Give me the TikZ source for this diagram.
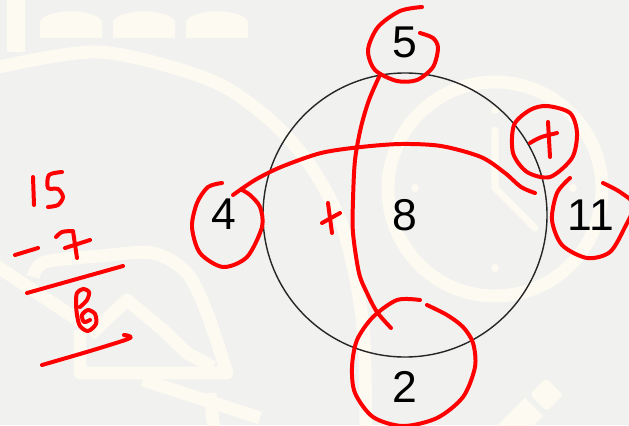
\documentclass[tikz,border=0pt]{standalone}
\usepackage{fontspec}
\setmainfont{Liberation Sans}
\definecolor{paper}{HTML}{F1F1F0}
\definecolor{cream}{HTML}{FCFAF1}
\definecolor{pen}  {HTML}{FF0000}
\newcommand\numfont{\fontsize{38}{40}\selectfont}

\begin{document}
\begin{tikzpicture}[
  x=0.03cm,y=-0.03cm,
  num/.style={font=\numfont,inner sep=0pt},
  ring/.style={draw=black!85,line width=1.2pt,circle,minimum size=8.52cm,
               inner sep=0pt,font=\numfont},
  ink/.style={draw=pen,line width=3.4pt,line cap=round,line join=round},
  wband/.style={draw=cream,line width=11pt,line join=round},
  wthin/.style={draw=cream,line width=6pt,line cap=round,line join=round}]

\fill[paper] (0,0) rectangle (629,425);
\useasboundingbox (0,0) rectangle (629,425);
\clip (0,0) rectangle (629,425);

% faint watermark
\fill[cream] (7,0) rectangle (25,52);
\foreach \dx in {40,113,186}
  \fill[cream] (\dx,38) -- (\dx,21) .. controls (\dx+10,8) and (\dx+52,8)
    .. (\dx+62,21) -- (\dx+62,38) -- cycle;
\draw[wband] plot[smooth] coordinates {(-5,68) (100,52) (210,80) (270,120)
  (310,165) (340,220) (356,280) (364,340) (366,430)};
\draw[wband] (495,189) circle[radius=107];
\draw[wthin] (495,130) -- (495,188) -- (535,228);
\foreach \p in {(495,110),(415,188),(573,188),(495,268)}
  \fill[cream] \p circle[radius=4];
\draw[wband] plot[smooth] coordinates {(33,277) (45,262) (100,256) (153,253)
  (187,273) (207,313) (227,373)} -- (80,373) -- (80,330);
\draw[wband] (90,335) -- (127,300) -- (163,330) -- (187,353) -- (213,367);
\draw[wband] (-5,265) -- (90,328);
\draw[wband] (143,380) -- (260,418);
\draw[wband] (210,393) -- (214,430);
\begin{scope}[shift={(534,407)},rotate=45]
  \fill[cream] (-120,-13) rectangle (0,13);
  \fill[cream,rounded corners=3pt] (6,-12) rectangle (29,12);
\end{scope}

% the sum
\node[ring] (ring) at (405,215) {8};
\node[num] (top)   at (405,42)  {5};
\node[num] (left)  at (224,214) {4};
\node[num] (right) at (591,215) {11};
\node[num] (bot)   at (405,387) {2};

% red marks
\draw[ink] plot[smooth] coordinates {(422,7) (400,11) (378,27) (368,50)
  (375,70) (397,81) (417,80) (433,67) (438,48) (433,38) (420,33)};
\draw[ink] plot[smooth] coordinates {(379,77) (369,100) (361,127) (355,160)
  (353,200) (353,233) (359,273) (367,293) (377,312) (391,328)};
\draw[ink] plot[smooth] coordinates {(222,183) (208,187) (197,203) (192,227)
  (200,253) (223,267) (247,257) (262,227) (260,207) (250,195) (242,190)};
\draw[ink] plot[smooth] coordinates {(233,195) (255,180) (281,167) (321,153)
  (361,147) (401,144) (441,146) (481,157) (505,173) (521,187) (535,193)};
\draw[ink] plot[smooth cycle] coordinates {(547,106) (570,113) (577,133)
  (572,158) (550,177) (527,172) (513,153) (514,125) (530,110)};
\draw[ink] (530,143) .. controls (540,137) .. (557,133);
\draw[ink] (548,122) -- (550,157);
\draw[ink] plot[smooth] coordinates {(570,178) (557,193) (552,220) (562,245)
  (587,258) (610,252) (625,227) (634,205) (620,192) (603,183)};
\draw[ink] plot[smooth] coordinates {(420,300) (397,300) (373,317) (357,340)
  (352,367) (355,393) (373,417) (403,426) (437,418) (463,397) (475,367)
  (473,343) (463,327) (447,315) (427,305)};
\draw[ink] (322,223) -- (340,213);
\draw[ink] (328,203) -- (332,233);

% 15 - 7 = 8 on the side
\draw[ink] (33,177) -- (34,205);
\draw[ink] plot[smooth] coordinates {(62,172) (49,175) (48,188) (58,189)
  (63,197) (58,205) (48,207)};
\draw[ink] (15,255) -- (38,248);
\draw[ink] plot[smooth] coordinates {(56,237) (62,232) (72,231)};
\draw[ink] (73,231) -- (77,258);
\draw[ink] (65,248) -- (90,240);
\draw[ink] (27,293) -- (123,266);
\draw[ink] plot[smooth] coordinates {(80,307) (87,300) (89,292) (83,289)
  (77,293) (76,303) (77,315) (80,326) (88,331) (96,324) (95,314) (88,310)
  (82,315) (84,322) (90,320)};
\draw[ink] plot[smooth] coordinates {(42,365) (90,351) (128,339) (129,336)
  (124,335)};
\end{tikzpicture}
\end{document}
